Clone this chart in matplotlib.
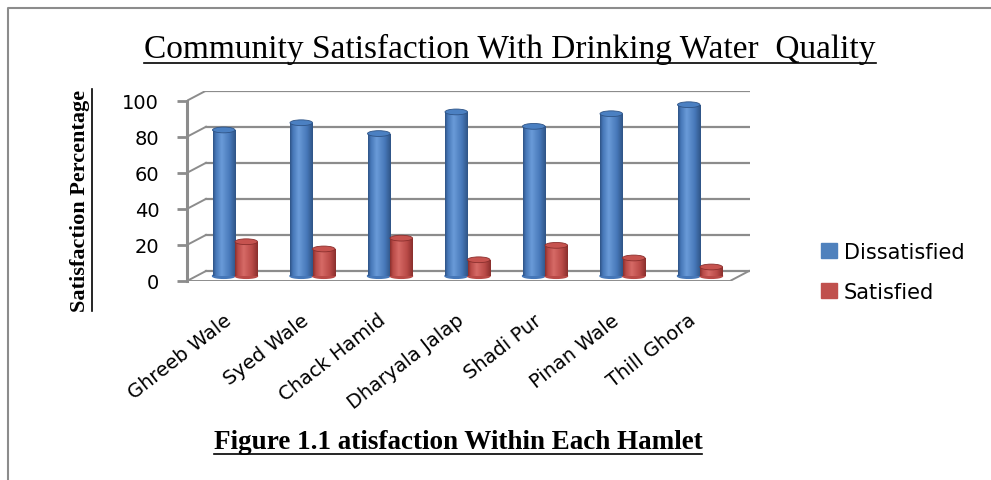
import numpy as np
import matplotlib
matplotlib.use("Agg")
import matplotlib.pyplot as plt
import matplotlib.transforms as mtransforms
from matplotlib.patches import Ellipse, Patch
from matplotlib.lines import Line2D

hamlets = ["Ghreeb Wale", "Syed Wale", "Chack Hamid", "Dharyala Jalap",
           "Shadi Pur", "Pinan Wale", "Thill Ghora"]
dissatisfied = [81, 85, 79, 91, 83, 90, 95]
satisfied = [19, 15, 21, 9, 17, 10, 5]
yticks = [0, 20, 40, 60, 80, 100]

W, H = 991, 481
fig = plt.figure(figsize=(W / 100, H / 100), dpi=100)

# axes box in pixels (front-left axis at x=187, floor at y=282, back wall right at 750, back top at 92)
left_px, right_px, bot_px, top_px = 187, 750, 282, 92
ax = fig.add_axes([left_px / W, (H - bot_px) / H, (right_px - left_px) / W, (bot_px - top_px) / H])

px_per_cat = 77.5
first_cat_px = 235
px_per_unit = 1.803
x0 = (left_px - first_cat_px) / px_per_cat
x1 = (right_px - first_cat_px) / px_per_cat
ax.set_xlim(x0, x1)
ax.set_ylim(0, (bot_px - top_px) / px_per_unit)
for s in ax.spines.values():
    s.set_visible(False)

# 3d depth offset (back wall relative to front)
dx = 19 / px_per_cat
dy = 10 / px_per_unit
x_front_right = (730 - first_cat_px) / px_per_cat
grid_c = "#8c8c8c"

for v in yticks:
    ax.plot([x0 + dx, x_front_right + dx], [v + dy, v + dy], color=grid_c, lw=1.6, zorder=1)
    ax.plot([x0, x0 + dx], [v, v + dy], color=grid_c, lw=1.4, zorder=1)
ax.plot([x0, x0], [0, 100], color=grid_c, lw=2.2, zorder=1, clip_on=False)
ax.plot([x0, x_front_right, x_front_right + dx], [0, 0, dy], color=grid_c, lw=1.4, zorder=1)

# cylinders
bw = 22.5 / px_per_cat
base = dy / 2
xpos = np.arange(len(hamlets))
grad = np.linspace(0, 1, 64)


def cylinders(xs, vals, c_dark, c_mid, c_light, c_top):
    cmap = matplotlib.colors.LinearSegmentedColormap.from_list(
        "cyl", [(0, c_dark), (0.12, c_mid), (0.38, c_light), (0.75, c_mid), (1, c_dark)])
    bars = ax.bar(xs, vals, bw, bottom=base, color=c_mid, zorder=3)
    for b, x, v in zip(bars, xs, vals):
        im = ax.imshow(grad[None, :], cmap=cmap, aspect="auto",
                       extent=[x - bw / 2, x + bw / 2, base, base + v], zorder=3)
        im.set_clip_path(b)
        b.set_alpha(0)
        ax.add_patch(Ellipse((x, base), bw, 2.6, color=c_mid, zorder=2.9))
        ax.add_patch(Ellipse((x, base + v), bw, 3.2, facecolor=c_top,
                             edgecolor=c_dark, lw=0.6, zorder=4))


cylinders(xpos - bw / 2, dissatisfied, "#2f5486", "#4677b8", "#6a9bd8", "#4b80c2")
cylinders(xpos + bw / 2, satisfied, "#8a2f2d", "#b94a47", "#d66a66", "#c6534f")

ax.set_xticks(xpos)
ax.set_xticklabels(hamlets, rotation=38, ha="right", va="top", rotation_mode="anchor",
                   fontsize=14, family="DejaVu Sans")
ax.tick_params(axis="x", length=0, pad=21)
shift = mtransforms.ScaledTranslation(-12 / 100, 0, fig.dpi_scale_trans)
for lab in ax.get_xticklabels():
    lab.set_transform(lab.get_transform() + shift)

ax.set_yticks(yticks)
ax.tick_params(axis="y", length=7, width=2, color=grid_c, pad=13, labelsize=14)

# legend
handles = [Patch(color="#4f81bd", label="Dissatisfied"), Patch(color="#c0504d", label="Satisfied")]
fig.legend(handles=handles, loc="center left", bbox_to_anchor=(802 / W, 1 - 273 / H),
           frameon=False, fontsize=15, handlelength=0.8, handleheight=0.75,
           handletextpad=0.3, labelspacing=0.95)

# titles
title = fig.text(510 / W, 1 - 49 / H, "Community Satisfaction With Drinking Water  Quality",
                 ha="center", va="center", fontsize=24, family="Liberation Serif")
caption = fig.text(458 / W, 1 - 443 / H, "Figure 1.1 atisfaction Within Each Hamlet",
                   ha="center", va="center", fontsize=19.5, family="Liberation Serif",
                   fontweight="bold")
ylab = fig.text(80 / W, 1 - 201 / H, "Satisfaction Percentage", rotation=90,
                ha="center", va="center", fontsize=16, family="Liberation Serif",
                fontweight="bold")

# underlines
fig.canvas.draw()
r = fig.canvas.get_renderer()
for t in (title, caption):
    bb = t.get_window_extent(r)
    fig.add_artist(Line2D([bb.x0 / W, bb.x1 / W], [(bb.y0 + 1) / H] * 2, color="black", lw=1.2))
bb = ylab.get_window_extent(r)
fig.add_artist(Line2D([(bb.x1 + 2) / W] * 2, [bb.y0 / H, bb.y1 / H], color="black", lw=1.2))

# page frame
fig.add_artist(Line2D([8 / W, 8 / W, 1], [0, 1 - 9 / H, 1 - 9 / H], color="#8c8c8c", lw=1.5))

fig.savefig("out.png", dpi=100)
